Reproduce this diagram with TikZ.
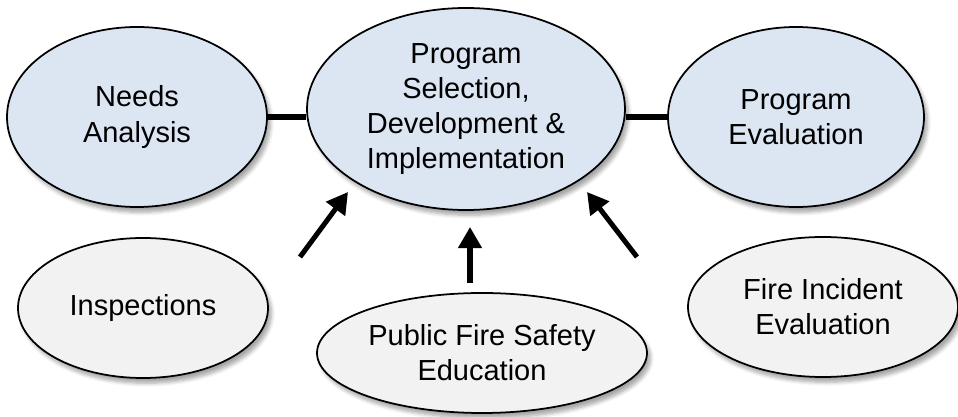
\documentclass[tikz,border=0pt]{standalone}
\usepackage{fontspec}
\setmainfont{Liberation Sans}
\usetikzlibrary{shapes.geometric,arrows.meta,shadows.blur}
\definecolor{stageblue}{HTML}{DCE6F2}
\definecolor{sourcegray}{HTML}{F2F2F2}

\tikzstyle{oval} = [ellipse, draw, line width=1pt, inner sep=0pt, align=center, font=\fontsize{16.5}{20}\selectfont, blur shadow={shadow xshift=2pt, shadow yshift=-3pt, shadow blur steps=6, shadow opacity=35}]

\begin{document}
\begin{tikzpicture}[>={Triangle[width=13pt,length=12pt]}]
	\tikzstyle{stage}=[oval, fill=stageblue]
	\tikzstyle{source}=[oval, fill=sourcegray]
	\tikzstyle{link}=[line width=2.85pt]
  \useasboundingbox (0,0) rectangle (19.16,8.34);
  \node[stage, minimum width=5.2cm, minimum height=3.6cm] (needs) at (2.74,6.0) {Needs\\Analysis};
  \node[stage, minimum width=6.36cm, minimum height=4.04cm] (central) at (9.32,6.16) {Program\\Selection,\\Development \&\\Implementation};
  \node[stage, minimum width=5.12cm, minimum height=3.6cm] (progeval) at (15.92,6.0) {Program\\Evaluation};
  \node[source, minimum width=5.0cm, minimum height=2.8cm] (inspect) at (2.86,2.18) {Inspections};
  \node[source, minimum width=6.6cm, minimum height=2.4cm] (pubedu) at (9.64,1.28) {Public Fire Safety\\Education};
  \node[source, minimum width=5.4cm, minimum height=2.8cm] (incident) at (16.46,2.2) {Fire Incident\\Evaluation};
    \coordinate (left-tail) at (6.0,3.2);
    \coordinate (left-tip) at (6.96,4.5);
    \coordinate (mid-tail) at (9.4,2.68);
    \coordinate (mid-tip) at (9.4,3.8);
    \coordinate (right-tail) at (12.74,3.2);
    \coordinate (right-tip) at (11.74,4.5);
\draw[link] (needs.east) -- (needs.east -| central.west);
\draw[link] (progeval.west -| central.east) -- (progeval.west);
\draw[link,->] (left-tail) -- (left-tip);
\draw[link,->] (mid-tail) -- (mid-tip);
\draw[link,->] (right-tail) -- (right-tip);
\end{tikzpicture}
\end{document}
